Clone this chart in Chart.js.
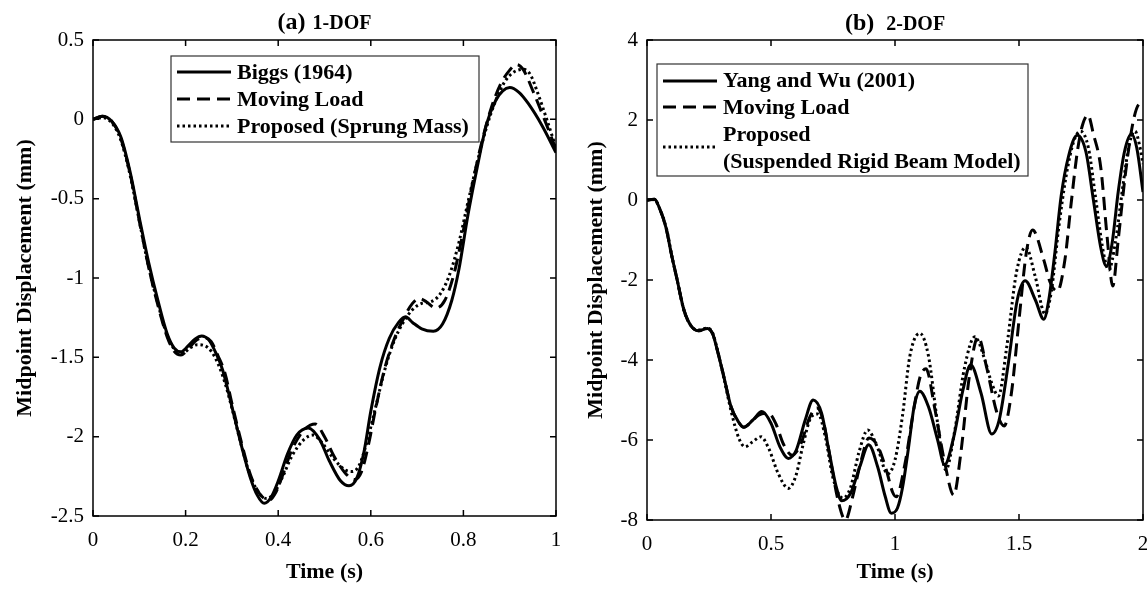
<!DOCTYPE html>
<html>
<head>
<meta charset="utf-8">
<script src="https://cdn.jsdelivr.net/npm/chart.js@4.4.1/dist/chart.umd.min.js"></script>
<style>
  html, body { margin: 0; padding: 0; background: #fff; overflow: hidden; }
  #wrap { position: relative; width: 1147px; height: 589px; overflow: hidden; }
  .panel { position: absolute; top: 0; }
  .panel canvas { display: block; }
  #panelA { left: 0; }
  #panelB { left: 580px; }
</style>
</head>
<body>
<div id="wrap">
  <div class="panel" id="panelA"><canvas id="chartA" width="580" height="589"></canvas></div>
  <div class="panel" id="panelB"><canvas id="chartB" width="610" height="589"></canvas></div>
</div>
<script>
// ── (a) 1-DOF: midpoint displacement (mm) vs time (s) ──
const tBiggs = [0, 0.02, 0.04, 0.06, 0.08, 0.1, 0.12, 0.14, 0.16, 0.175, 0.19, 0.205, 0.22, 0.235, 0.25, 0.265, 0.28, 0.3, 0.32, 0.34, 0.355, 0.37, 0.385, 0.4, 0.42, 0.44, 0.465, 0.49, 0.51, 0.535, 0.553, 0.57, 0.585, 0.6, 0.62, 0.64, 0.66, 0.675, 0.69, 0.71, 0.735, 0.755, 0.775, 0.79, 0.81, 0.83, 0.85, 0.87, 0.885, 0.9, 0.92, 0.94, 0.97, 1.0];
const dBiggs = [0, 0.02, -0.01, -0.11, -0.33, -0.62, -0.9, -1.14, -1.35, -1.44, -1.465, -1.43, -1.385, -1.365, -1.39, -1.47, -1.58, -1.81, -2.05, -2.26, -2.37, -2.42, -2.38, -2.28, -2.11, -1.99, -1.945, -2.02, -2.15, -2.28, -2.31, -2.26, -2.1, -1.84, -1.56, -1.38, -1.28, -1.245, -1.28, -1.32, -1.335, -1.29, -1.14, -0.95, -0.6, -0.3, -0.03, 0.12, 0.18, 0.2, 0.17, 0.1, -0.04, -0.21];

const tMoveA = [0, 0.02, 0.04, 0.06, 0.08, 0.1, 0.12, 0.14, 0.16, 0.175, 0.19, 0.205, 0.22, 0.24, 0.255, 0.27, 0.285, 0.3, 0.32, 0.34, 0.36, 0.38, 0.395, 0.41, 0.43, 0.455, 0.48, 0.5, 0.52, 0.545, 0.565, 0.58, 0.595, 0.61, 0.63, 0.65, 0.67, 0.69, 0.705, 0.72, 0.74, 0.76, 0.78, 0.8, 0.82, 0.84, 0.86, 0.88, 0.9, 0.915, 0.93, 0.95, 0.975, 1.0];
const dMoveA = [0, 0.02, -0.01, -0.12, -0.34, -0.64, -0.93, -1.17, -1.37, -1.46, -1.485, -1.45, -1.4, -1.375, -1.4, -1.49, -1.6, -1.79, -2.03, -2.24, -2.36, -2.40, -2.35, -2.24, -2.08, -1.96, -1.92, -2.0, -2.12, -2.23, -2.27, -2.22, -2.05, -1.83, -1.57, -1.39, -1.26, -1.16, -1.13, -1.15, -1.19, -1.14, -0.97, -0.7, -0.4, -0.14, 0.07, 0.22, 0.31, 0.345, 0.31, 0.18, 0.0, -0.19];

const tPropA = [0, 0.02, 0.04, 0.06, 0.08, 0.1, 0.12, 0.14, 0.16, 0.18, 0.195, 0.21, 0.225, 0.24, 0.255, 0.27, 0.285, 0.3, 0.32, 0.34, 0.36, 0.375, 0.39, 0.41, 0.43, 0.455, 0.475, 0.495, 0.52, 0.545, 0.56, 0.575, 0.59, 0.61, 0.63, 0.65, 0.67, 0.69, 0.71, 0.73, 0.75, 0.77, 0.79, 0.81, 0.83, 0.85, 0.87, 0.89, 0.91, 0.93, 0.945, 0.96, 0.98, 1.0];
const dPropA = [0, 0.01, -0.02, -0.13, -0.35, -0.64, -0.93, -1.16, -1.36, -1.46, -1.47, -1.44, -1.42, -1.425, -1.46, -1.54, -1.66, -1.82, -2.05, -2.25, -2.36, -2.39, -2.36, -2.25, -2.12, -2.02, -1.99, -2.04, -2.14, -2.21, -2.22, -2.18, -2.05, -1.82, -1.58, -1.4, -1.28, -1.2, -1.16, -1.15, -1.1, -0.98, -0.78, -0.52, -0.27, -0.05, 0.12, 0.24, 0.3, 0.315, 0.28, 0.17, 0.0, -0.18];

const ticksXA = [0, 0.2, 0.4, 0.6, 0.8, 1];
const ticksYA = [-2.5, -2, -1.5, -1, -0.5, 0, 0.5];
const labelsA = [['Biggs (1964)'], ['Moving Load'], ['Proposed (Sprung Mass)']];

// ── (b) 2-DOF ──
const tYang = [0, 0.03, 0.05, 0.076, 0.1, 0.12, 0.149, 0.178, 0.207, 0.244, 0.265, 0.28, 0.31, 0.339, 0.368, 0.39, 0.427, 0.463, 0.5, 0.536, 0.57, 0.602, 0.638, 0.67, 0.704, 0.733, 0.763, 0.785, 0.821, 0.858, 0.894, 0.93, 0.96, 0.985, 1.01, 1.03, 1.055, 1.077, 1.1, 1.135, 1.172, 1.2, 1.237, 1.274, 1.305, 1.347, 1.39, 1.42, 1.457, 1.493, 1.525, 1.566, 1.6, 1.62, 1.645, 1.67, 1.7, 1.735, 1.77, 1.8, 1.83, 1.852, 1.875, 1.9, 1.925, 1.953, 1.975, 2.0];
const dYang = [0, 0.02, -0.2, -0.68, -1.4, -1.95, -2.75, -3.15, -3.27, -3.21, -3.35, -3.67, -4.42, -5.17, -5.54, -5.68, -5.5, -5.29, -5.58, -6.17, -6.46, -6.25, -5.5, -5.0, -5.33, -6.25, -7.17, -7.52, -7.33, -6.67, -6.12, -6.67, -7.4, -7.83, -7.7, -7.2, -6.17, -5.17, -4.78, -5.17, -6.0, -6.62, -5.92, -4.75, -4.12, -4.83, -5.85, -5.5, -4.08, -2.5, -2.02, -2.5, -2.98, -2.5, -1.3, 0.1, 1.1, 1.62, 1.2, 0.0, -1.2, -1.65, -1.1, 0.2, 1.2, 1.65, 1.3, 0.2];

const tMoveB = [0, 0.03, 0.05, 0.076, 0.1, 0.12, 0.149, 0.178, 0.207, 0.244, 0.265, 0.28, 0.31, 0.339, 0.368, 0.39, 0.42, 0.45, 0.49, 0.52, 0.55, 0.585, 0.62, 0.655, 0.685, 0.71, 0.74, 0.77, 0.8, 0.83, 0.86, 0.895, 0.93, 0.965, 0.99, 1.005, 1.04, 1.07, 1.1, 1.125, 1.16, 1.2, 1.237, 1.265, 1.3, 1.335, 1.37, 1.41, 1.44, 1.47, 1.5, 1.53, 1.555, 1.6, 1.625, 1.655, 1.685, 1.71, 1.735, 1.755, 1.778, 1.8, 1.83, 1.855, 1.878, 1.9, 1.93, 1.96, 1.985, 2.0];
const dMoveB = [0, 0.02, -0.2, -0.68, -1.4, -1.95, -2.75, -3.15, -3.27, -3.21, -3.35, -3.67, -4.42, -5.17, -5.54, -5.68, -5.55, -5.38, -5.33, -5.6, -6.1, -6.38, -6.1, -5.45, -5.2, -5.5, -6.5, -7.5, -8.0, -7.4, -6.6, -5.95, -6.15, -6.75, -7.3, -7.42, -6.6, -5.45, -4.45, -4.22, -5.2, -6.55, -7.38, -6.35, -4.4, -3.42, -4.2, -5.3, -5.65, -4.8, -3.0, -1.3, -0.75, -1.5, -2.05, -2.28, -1.5, -0.1, 1.2, 1.85, 2.12, 1.65, 0.8, -0.9, -2.15, -1.0, 0.7, 1.95, 2.4, 2.42];

const tPropB = [0, 0.03, 0.05, 0.08, 0.1, 0.12, 0.15, 0.178, 0.207, 0.244, 0.265, 0.28, 0.31, 0.34, 0.37, 0.395, 0.425, 0.46, 0.49, 0.53, 0.57, 0.6, 0.63, 0.66, 0.69, 0.72, 0.75, 0.79, 0.82, 0.855, 0.89, 0.93, 0.97, 1.0, 1.03, 1.06, 1.1, 1.135, 1.17, 1.205, 1.24, 1.28, 1.322, 1.36, 1.39, 1.417, 1.45, 1.49, 1.528, 1.565, 1.605, 1.63, 1.66, 1.69, 1.72, 1.748, 1.78, 1.81, 1.84, 1.862, 1.89, 1.92, 1.945, 1.968, 1.985, 2.0];
const dPropB = [0, 0.01, -0.2, -0.75, -1.4, -1.95, -2.78, -3.15, -3.25, -3.2, -3.33, -3.65, -4.45, -5.3, -5.95, -6.17, -6.05, -5.92, -6.2, -6.85, -7.21, -6.9, -6.1, -5.45, -5.35, -5.95, -6.95, -7.45, -7.2, -6.3, -5.75, -6.2, -6.85, -6.5, -5.4, -3.9, -3.33, -3.9, -5.5, -6.75, -5.8, -4.2, -3.42, -3.95, -4.58, -4.9, -3.7, -1.8, -1.18, -1.9, -2.85, -2.3, -0.7, 0.6, 1.45, 1.72, 1.3, 0.0, -1.3, -1.75, -1.0, 0.4, 1.4, 1.72, 1.4, 0.9];

const ticksXB = [0, 0.5, 1, 1.5, 2];
const ticksYB = [-8, -6, -4, -2, 0, 2, 4];
const labelsB = [['Yang and Wu (2001)'], ['Moving Load'], ['Proposed', '(Suspended Rigid Beam Model)']];

const SERIF = '"Liberation Serif", "Times New Roman", serif';
const pts = (ts, vs) => ts.map((t, i) => ({ x: t, y: vs[i] }));
const fmt = v => String(Math.round(v * 100) / 100);

const SOLID = [], DASHED = [13, 7], DOTTED = [2.5, 3];

function series(label, ts, vs, dash) {
  return {
    label, data: pts(ts, vs), borderColor: '#000', borderWidth: 3, borderDash: dash,
    borderCapStyle: 'butt', pointRadius: 0, fill: false, cubicInterpolationMode: 'monotone'
  };
}

// box frame, inward ticks on all four sides, title and boxed legend
const matlabLook = {
  id: 'matlabLook',
  afterDatasetsDraw(chart, args, o) {
    const { ctx, chartArea: a, scales: { x, y } } = chart;
    ctx.save();
    ctx.strokeStyle = '#000';
    ctx.lineWidth = 1.5;
    ctx.setLineDash([]);
    ctx.strokeRect(a.left, a.top, a.right - a.left, a.bottom - a.top);
    ctx.beginPath();
    o.xTicks.forEach(v => {
      const px = x.getPixelForValue(v);
      ctx.moveTo(px, a.bottom); ctx.lineTo(px, a.bottom - 6);
      ctx.moveTo(px, a.top); ctx.lineTo(px, a.top + 6);
    });
    o.yTicks.forEach(v => {
      const py = y.getPixelForValue(v);
      ctx.moveTo(a.left, py); ctx.lineTo(a.left + 6, py);
      ctx.moveTo(a.right, py); ctx.lineTo(a.right - 6, py);
    });
    ctx.stroke();

    // title: big panel letter, smaller DOF tag
    const cx = (a.left + a.right) / 2;
    ctx.fillStyle = '#000';
    ctx.textBaseline = 'alphabetic';
    ctx.font = 'bold 24px ' + SERIF;
    const w1 = ctx.measureText(o.title[0]).width;
    ctx.font = 'bold 20px ' + SERIF;
    const w2 = ctx.measureText(o.title[1]).width;
    const x0 = cx - (w1 + o.titleGap + w2) / 2;
    ctx.font = 'bold 24px ' + SERIF;
    ctx.fillText(o.title[0], x0, o.titleY);
    ctx.font = 'bold 20px ' + SERIF;
    ctx.fillText(o.title[1], x0 + w1 + o.titleGap, o.titleY);

    // legend
    const L = o.legend;
    ctx.fillStyle = '#fff';
    ctx.fillRect(L.box[0], L.box[1], L.box[2], L.box[3]);
    ctx.lineWidth = 1.2;
    ctx.strokeStyle = '#333';
    ctx.strokeRect(L.box[0], L.box[1], L.box[2], L.box[3]);
    ctx.font = 'bold 22px ' + SERIF;
    ctx.textBaseline = 'middle';
    ctx.fillStyle = '#000';
    chart.data.datasets.forEach((ds, i) => {
      ctx.strokeStyle = '#000';
      ctx.lineWidth = ds.borderWidth;
      ctx.lineCap = 'butt';
      ctx.setLineDash(ds.borderDash);
      ctx.beginPath();
      ctx.moveTo(L.sample[0], L.sampleY[i]);
      ctx.lineTo(L.sample[1], L.sampleY[i]);
      ctx.stroke();
      ctx.setLineDash([]);
      ds.label.forEach((line, k) => ctx.fillText(line, L.textX, L.textY[i][k]));
    });
    ctx.restore();
  }
};

function panel(cfg) {
  return {
    type: 'line',
    data: { datasets: cfg.datasets },
    plugins: [matlabLook],
    options: {
      animation: false,
      responsive: false,
      layout: { autoPadding: false, padding: { top: 40, right: cfg.padRight, bottom: 0, left: 0 } },
      plugins: {
        legend: { display: false },
        tooltip: { enabled: false },
        matlabLook: cfg.look
      },
      scales: {
        x: {
          type: 'linear', min: cfg.xRange[0], max: cfg.xRange[1],
          afterBuildTicks: s => { s.ticks = cfg.look.xTicks.map(v => ({ value: v })); },
          afterFit: s => { s.height = cfg.xHeight; },
          grid: { display: false, drawTicks: false },
          border: { display: false },
          ticks: { color: '#000', padding: 12, maxRotation: 0, autoSkip: false, font: { family: SERIF, size: 21 }, callback: fmt },
          title: { display: true, text: 'Time (s)', color: '#000', font: { family: SERIF, size: 22, weight: 'bold' }, padding: { top: 0, bottom: 3 } }
        },
        y: {
          type: 'linear', min: cfg.yRange[0], max: cfg.yRange[1],
          afterBuildTicks: s => { s.ticks = cfg.look.yTicks.map(v => ({ value: v })); },
          afterFit: s => { s.width = cfg.yWidth; },
          grid: { display: false, drawTicks: false },
          border: { display: false },
          ticks: { color: '#000', padding: 9, autoSkip: false, font: { family: SERIF, size: 21 }, callback: fmt },
          title: { display: true, text: 'Midpoint Displacement (mm)', color: '#000', font: { family: SERIF, size: 22, weight: 'bold' }, padding: { top: cfg.yTitlePad, bottom: 0 } }
        }
      }
    }
  };
}

new Chart(document.getElementById('chartA'), panel({
  datasets: [
    series(labelsA[0], tBiggs, dBiggs, SOLID),
    series(labelsA[1], tMoveA, dMoveA, DASHED),
    series(labelsA[2], tPropA, dPropA, DOTTED)
  ],
  xRange: [0, 1], yRange: [-2.5, 0.5],
  yWidth: 93, xHeight: 73, padRight: 24, yTitlePad: 12,
  look: {
    xTicks: ticksXA, yTicks: ticksYA,
    title: ['(a)', '1-DOF'], titleGap: 7, titleY: 28.5,
    legend: { box: [171, 56, 308, 86], sample: [177, 231], sampleY: [72, 99, 126], textX: 237, textY: [[73], [100], [127]] }
  }
}));

// canvas runs past the page edge so the last tick label gets cut like the plot frame
new Chart(document.getElementById('chartB'), panel({
  datasets: [
    series(labelsB[0], tYang, dYang, SOLID),
    series(labelsB[1], tMoveB, dMoveB, DASHED),
    series(labelsB[2], tPropB, dPropB, DOTTED)
  ],
  xRange: [0, 2], yRange: [-8, 4],
  yWidth: 67, xHeight: 69, padRight: 47, yTitlePad: 3,
  look: {
    xTicks: ticksXB, yTicks: ticksYB,
    title: ['(b)', '2-DOF'], titleGap: 12, titleY: 29.5,
    legend: { box: [77, 64, 371, 112], sample: [83, 137], sampleY: [81, 107, 147], textX: 143, textY: [[81], [108], [135, 162]] }
  }
}));
</script>
</body>
</html>
